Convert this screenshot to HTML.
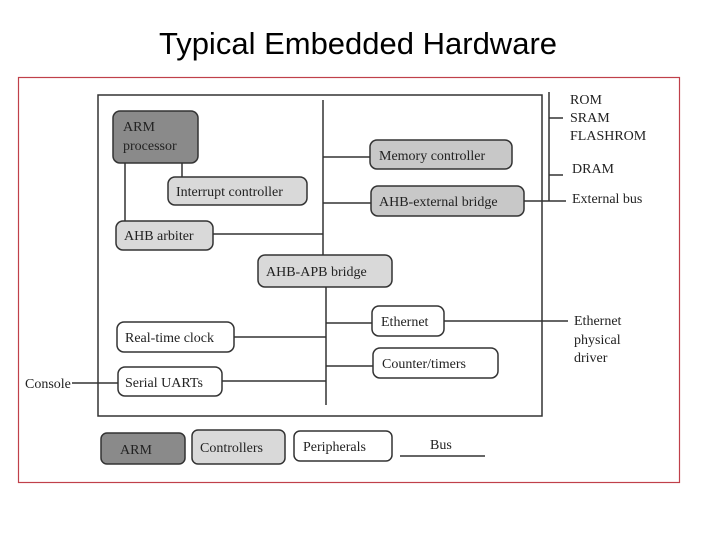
<!DOCTYPE html>
<html><head><meta charset="utf-8"><style>
html,body{margin:0;padding:0;background:#fff;}
svg{display:block;}
.t{font-family:"Liberation Serif",serif;font-size:14px;fill:#222;}
</style></head><body>
<svg width="720" height="540" viewBox="0 0 720 540" xmlns="http://www.w3.org/2000/svg">
<text x="358" y="54" text-anchor="middle" font-family="Liberation Sans,sans-serif" font-size="31" fill="#000">Typical Embedded Hardware</text>
<rect x="18.5" y="77.5" width="661" height="405" fill="#fff" stroke="#c0404a" stroke-width="1.2"/>
<rect x="98" y="95" width="444" height="321" fill="#fff" stroke="#333" stroke-width="1.5"/>
<g stroke="#333" stroke-width="1.5" fill="none">
<line x1="323" y1="100" x2="323" y2="255"/>
<line x1="326" y1="287" x2="326" y2="405"/>
<line x1="549" y1="92" x2="549" y2="201"/>
<line x1="549" y1="118" x2="563" y2="118"/>
<line x1="549" y1="175" x2="563" y2="175"/>
<line x1="524" y1="201" x2="566" y2="201"/>
<line x1="323" y1="157" x2="370" y2="157"/>
<line x1="323" y1="203" x2="371" y2="203"/>
<line x1="213" y1="234" x2="323" y2="234"/>
<line x1="125" y1="163" x2="125" y2="221"/>
<line x1="182" y1="163" x2="182" y2="177"/>
<line x1="326" y1="323" x2="372" y2="323"/>
<line x1="444" y1="321" x2="568" y2="321"/>
<line x1="234" y1="337" x2="326" y2="337"/>
<line x1="326" y1="366" x2="373" y2="366"/>
<line x1="222" y1="381" x2="326" y2="381"/>
<line x1="72" y1="383" x2="118" y2="383"/>
<line x1="400" y1="456" x2="485" y2="456"/>
</g>
<g stroke="#333" stroke-width="1.5">
<rect x="113" y="111" width="85" height="52" rx="7" fill="#8a8a8a"/>
<rect x="168" y="177" width="139" height="28" rx="7" fill="#d9d9d9"/>
<rect x="116" y="221" width="97" height="29" rx="7" fill="#d9d9d9"/>
<rect x="370" y="140" width="142" height="29" rx="7" fill="#c8c8c8"/>
<rect x="371" y="186" width="153" height="30" rx="7" fill="#c8c8c8"/>
<rect x="258" y="255" width="134" height="32" rx="7" fill="#d9d9d9"/>
<rect x="372" y="306" width="72" height="30" rx="7" fill="#fff"/>
<rect x="373" y="348" width="125" height="30" rx="7" fill="#fff"/>
<rect x="117" y="322" width="117" height="30" rx="7" fill="#fff"/>
<rect x="118" y="367" width="104" height="29" rx="7" fill="#fff"/>
<rect x="101" y="433" width="84" height="31" rx="6" fill="#8a8a8a"/>
<rect x="192" y="430" width="93" height="34" rx="6" fill="#d9d9d9"/>
<rect x="294" y="431" width="98" height="30" rx="6" fill="#fff"/>
</g>
<text class="t" x="123" y="131">ARM</text>
<text class="t" x="123" y="150">processor</text>
<text class="t" x="176" y="196">Interrupt controller</text>
<text class="t" x="124" y="240">AHB arbiter</text>
<text class="t" x="379" y="160">Memory controller</text>
<text class="t" x="379" y="206">AHB-external bridge</text>
<text class="t" x="266" y="276">AHB-APB bridge</text>
<text class="t" x="381" y="326">Ethernet</text>
<text class="t" x="382" y="368">Counter/timers</text>
<text class="t" x="125" y="342">Real-time clock</text>
<text class="t" x="125" y="387">Serial UARTs</text>
<text class="t" x="25" y="388">Console</text>
<text class="t" x="120" y="454">ARM</text>
<text class="t" x="200" y="452">Controllers</text>
<text class="t" x="303" y="451">Peripherals</text>
<text class="t" x="430" y="449">Bus</text>
<text class="t" x="570" y="104">ROM</text>
<text class="t" x="570" y="122">SRAM</text>
<text class="t" x="570" y="140">FLASHROM</text>
<text class="t" x="572" y="173">DRAM</text>
<text class="t" x="572" y="203">External bus</text>
<text class="t" x="574" y="325">Ethernet</text>
<text class="t" x="574" y="344">physical</text>
<text class="t" x="574" y="362">driver</text>
</svg>
</body></html>
